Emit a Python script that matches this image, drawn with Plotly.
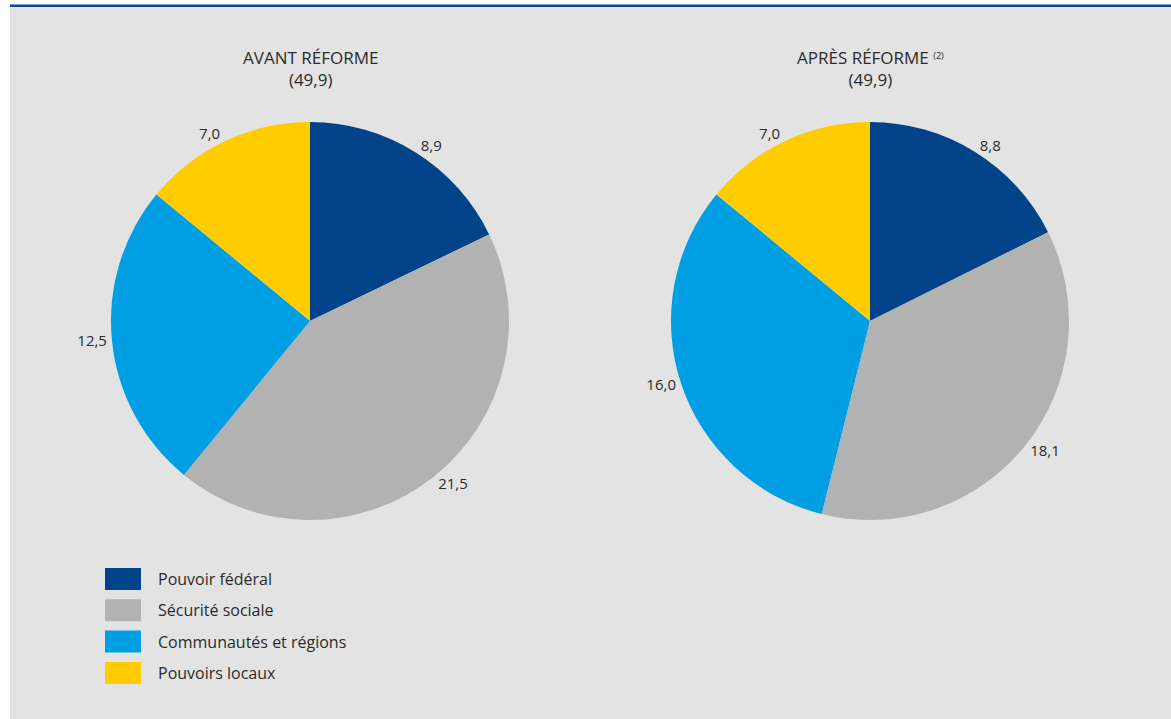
import plotly.graph_objects as go

categories = ["Pouvoir fédéral", "Sécurité sociale", "Communautés et régions", "Pouvoirs locaux"]
avant_values = [8.9, 21.5, 12.5, 7.0]
apres_values = [8.8, 18.1, 16.0, 7.0]
colors = ["#004388", "#b2b2b2", "#009fe3", "#ffcc00"]
titles = ["AVANT RÉFORME<br>(49,9)",
          "APRÈS RÉFORME <span style='font-size:13px'><sup>(2)</sup></span><br>(49,9)"]

W, H = 1171, 719
FONT = "Open Sans"
TXT = "#2b2b2b"

def pie(values, cx):
    r = 199
    return go.Pie(
        labels=categories, values=values, sort=False, direction="clockwise", rotation=0,
        marker=dict(colors=colors, line=dict(width=0)),
        textinfo="value", texttemplate="%{value:.1f}", textposition="outside",
        outsidetextfont=dict(family=FONT, size=15, color=TXT),
        domain=dict(x=[(cx - r) / W, (cx + r) / W], y=[(H - 321 - r) / H, (H - 321 + r) / H]),
        showlegend=False, hoverinfo="label+value",
    )

fig = go.Figure([pie(avant_values, 310), pie(apres_values, 870)])

shapes = [
    dict(type="rect", xref="paper", yref="paper", x0=10 / W, x1=1, y0=0, y1=(H - 7) / H,
         fillcolor="#e3e3e3", line=dict(width=0), layer="below"),
    dict(type="rect", xref="paper", yref="paper", x0=10 / W, x1=1, y0=(H - 7) / H, y1=(H - 4.5) / H,
         fillcolor="#0b4a8b", line=dict(width=0), layer="below"),
]
annotations = []
for t, cx in zip(titles, [310, 870]):
    annotations.append(dict(text=t, x=cx / W, y=(H - 44) / H, xref="paper", yref="paper",
                            xanchor="center", yanchor="top", showarrow=False,
                            font=dict(family=FONT, size=17, color=TXT)))
for i, (c, col) in enumerate(zip(categories, colors)):
    top = 568 + i * 31.3
    shapes.append(dict(type="rect", xref="paper", yref="paper", x0=105 / W, x1=141 / W,
                       y0=(H - top - 22) / H, y1=(H - top) / H, fillcolor=col, line=dict(width=0)))
    annotations.append(dict(text=c, x=156 / W, y=(H - top - 11) / H, xref="paper", yref="paper",
                            xanchor="left", yanchor="middle", showarrow=False,
                            font=dict(family=FONT, size=16, color=TXT)))

fig.update_layout(
    width=W, height=H, margin=dict(l=0, r=0, t=0, b=0),
    paper_bgcolor="white", plot_bgcolor="white",
    separators=", ", shapes=shapes, annotations=annotations,
    font=dict(family=FONT, color=TXT),
)
fig.write_html("out.html")
